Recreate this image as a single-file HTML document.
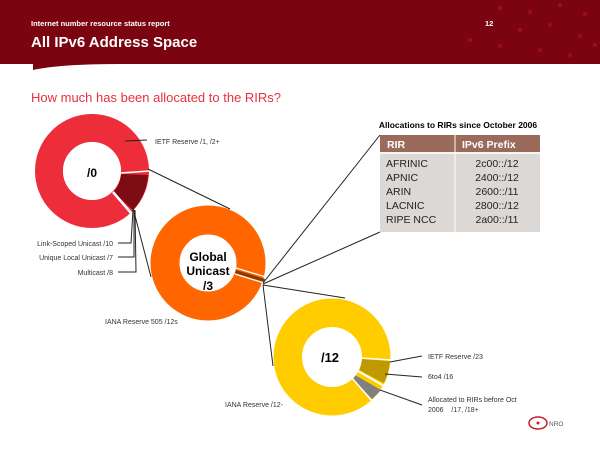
<!DOCTYPE html>
<html><head><style>
body{margin:0;background:#fff;}
svg{display:block;font-family:"Liberation Sans",Arial,sans-serif;}
</style></head><body>
<svg width="600" height="449" viewBox="0 0 600 449" xmlns="http://www.w3.org/2000/svg">
<path d="M0 0H600V64H120Q60 64 33 70V64H0Z" fill="#7a0510"/>
<g fill="#a8101c" opacity="0.8">
<circle cx="500" cy="8" r="2"/><circle cx="530" cy="12" r="2"/><circle cx="560" cy="5" r="2"/><circle cx="585" cy="14" r="2"/>
<circle cx="520" cy="30" r="2"/><circle cx="550" cy="25" r="2"/><circle cx="580" cy="36" r="2"/><circle cx="470" cy="40" r="2"/>
<circle cx="500" cy="46" r="2"/><circle cx="540" cy="50" r="2"/><circle cx="570" cy="55" r="2"/><circle cx="595" cy="45" r="2"/>
</g>
<text x="31" y="26" fill="#fff" font-size="7.5" font-weight="bold">Internet number resource status report</text>
<text x="485" y="26" fill="#fff" font-size="7.5" font-weight="bold">12</text>
<text x="31" y="47" fill="#fff" font-size="15" font-weight="bold">All IPv6 Address Space</text>
<text x="31" y="102" fill="#e8303e" font-size="13">How much has been allocated to the RIRs?</text>

<!-- /0 donut -->
<circle cx="92" cy="171" r="43" fill="none" stroke="#ee2d3b" stroke-width="28"/>
<path d="M148 175 A57 57 0 0 1 133 210 L113 192 A29 29 0 0 0 121 174Z" fill="#7d0c14"/>
<line x1="113" y1="192" x2="131" y2="213" stroke="#fff" stroke-width="2.5"/>
<line x1="121" y1="173" x2="149" y2="171" stroke="#fff" stroke-width="1.5"/>
<circle cx="92" cy="171" r="29" fill="#fff"/>
<text x="92" y="177" font-size="12" font-weight="bold" text-anchor="middle">/0</text>

<!-- global unicast -->
<circle cx="208" cy="263" r="43" fill="none" stroke="#ff6600" stroke-width="29"/>
<path d="M236 270 L265 279 L264 282 L235 273Z" fill="#8a3a00"/>
<line x1="236" y1="268" x2="266" y2="277" stroke="#fff" stroke-width="1.2"/>
<line x1="235" y1="274" x2="264" y2="283" stroke="#fff" stroke-width="1.2"/>
<circle cx="208" cy="263" r="28" fill="#fff"/>
<text x="208" y="261" font-size="12" font-weight="bold" text-anchor="middle">Global</text>
<text x="208" y="275" font-size="12" font-weight="bold" text-anchor="middle">Unicast</text>
<text x="208" y="290" font-size="12" font-weight="bold" text-anchor="middle">/3</text>

<!-- /12 -->
<circle cx="332" cy="357" r="44" fill="none" stroke="#ffcc00" stroke-width="29"/>
<path d="M361 359 L390 361 A58 58 0 0 1 384 383 L359 370Z" fill="#bf9900"/>
<path d="M355 375 L381 390 A58 58 0 0 1 372 399 L352 378Z" fill="#808080"/>
<line x1="361" y1="358" x2="391" y2="360" stroke="#fff" stroke-width="1.5"/>
<line x1="358" y1="371" x2="384" y2="386" stroke="#fff" stroke-width="2"/>
<line x1="352" y1="378" x2="372" y2="401" stroke="#fff" stroke-width="1.5"/>
<circle cx="332" cy="357" r="30" fill="#fff"/>
<text x="330" y="362" font-size="13" font-weight="bold" text-anchor="middle">/12</text>

<!-- connector lines -->
<g stroke="#222" stroke-width="1" fill="none">
<line x1="148" y1="169" x2="230" y2="209"/>
<line x1="133" y1="208" x2="151" y2="277"/>
<line x1="125" y1="141" x2="147" y2="140"/>
<polyline points="118,243 131,243 133,210"/>
<polyline points="118,257 134,257 134,210"/>
<polyline points="118,272 136,272 135,210"/>
<line x1="263" y1="285" x2="345" y2="298"/>
<line x1="263" y1="285" x2="273" y2="366"/>
<line x1="263" y1="283" x2="380" y2="135"/>
<line x1="263" y1="284" x2="380" y2="232"/>
<line x1="390" y1="362" x2="422" y2="356"/>
<line x1="385" y1="374" x2="422" y2="377"/>
<line x1="380" y1="390" x2="422" y2="405"/>
</g>

<g font-size="7" fill="#333">
<text x="155" y="144">IETF Reserve /1, /2+</text>
<text x="113" y="246" text-anchor="end">Link-Scoped Unicast /10</text>
<text x="113" y="260" text-anchor="end">Unique Local Unicast /7</text>
<text x="113" y="275" text-anchor="end">Multicast /8</text>
<text x="105" y="324">IANA Reserve 505 /12s</text>
<text x="225" y="407">IANA Reserve /12-</text>
<text x="428" y="359">IETF Reserve /23</text>
<text x="428" y="379">6to4 /16</text>
<text x="428" y="402">Allocated to RIRs before Oct</text>
<text x="428" y="412">2006&#160;&#160;&#160;&#160;/17, /18+</text>
</g>

<!-- table -->
<text x="458" y="128" font-size="8.5" font-weight="bold" text-anchor="middle">Allocations to RIRs since October 2006</text>
<rect x="380" y="135" width="160" height="97" fill="#dcd8d6"/>
<rect x="380" y="135" width="160" height="17" fill="#9a6a5a"/>
<line x1="380" y1="153" x2="540" y2="153" stroke="#fff" stroke-width="1.5"/>
<line x1="455" y1="135" x2="455" y2="232" stroke="#fff" stroke-width="1"/>
<g font-size="10.5" font-weight="bold" fill="#fff">
<text x="387" y="148">RIR</text><text x="462" y="148">IPv6 Prefix</text>
</g>
<g font-size="10.5" fill="#222">
<text x="386" y="167">AFRINIC</text><text x="497" y="167" text-anchor="middle">2c00::/12</text>
<text x="386" y="181">APNIC</text><text x="497" y="181" text-anchor="middle">2400::/12</text>
<text x="386" y="195">ARIN</text><text x="497" y="195" text-anchor="middle">2600::/11</text>
<text x="386" y="209">LACNIC</text><text x="497" y="209" text-anchor="middle">2800::/12</text>
<text x="386" y="223">RIPE NCC</text><text x="497" y="223" text-anchor="middle">2a00::/11</text>
</g>

<!-- NRO logo -->
<ellipse cx="538" cy="423" rx="9" ry="6" fill="none" stroke="#c0202a" stroke-width="1.5"/>
<circle cx="538" cy="423" r="1.5" fill="#c0202a"/>
<text x="549" y="426" font-size="6.5" fill="#555">NRO</text>
</svg>
</body></html>
